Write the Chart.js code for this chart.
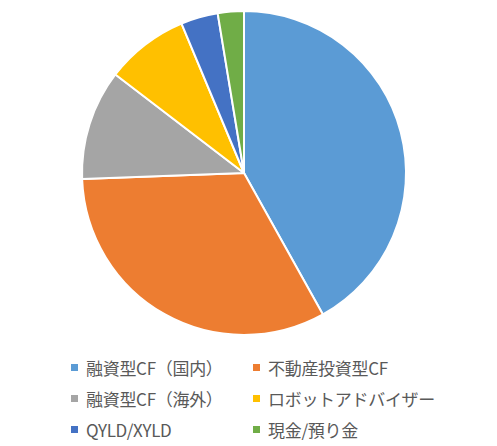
<!DOCTYPE html>
<html>
<head>
<meta charset="utf-8">
<script src="https://cdn.jsdelivr.net/npm/chart.js@4"></script>
<style>
  body { margin: 0; background: #fff; }
  #wrap { position: relative; width: 497px; height: 446px; }
  #chartBox { position: absolute; left: 0; top: 0; width: 497px; height: 346px; }
  #legend { position: absolute; left: 71px; top: 353px; width: 420px;
    display: grid; grid-template-columns: 182px 230px; row-gap: 3px;
    font-family: "Noto Sans CJK JP", "Noto Sans", sans-serif; font-size: 17px; color: #595959; }
  .item { display: flex; align-items: center; height: 28px; white-space: nowrap; letter-spacing: -0.3px; }
  .box { width: 7px; height: 7px; margin-right: 8px; flex: none; }
</style>
</head>
<body>
<div id="wrap">
  <div id="chartBox"><canvas id="pieChart"></canvas></div>
  <div id="legend"></div>
</div>
<script>
// カテゴリと割合(%)
const labels = ['融資型CF（国内）', '不動産投資型CF', '融資型CF（海外）', 'ロボットアドバイザー', 'QYLD/XYLD', '現金/預り金'];
const values = [41.9, 32.5, 11.0, 8.3, 3.7, 2.6];
const colors = ['#5B9BD5', '#ED7D31', '#A5A5A5', '#FFC000', '#4472C4', '#70AD47'];

const ctx = document.getElementById('pieChart').getContext('2d');
const chart = new Chart(ctx, {
    type: 'pie',
    data: {
        labels: labels,
        datasets: [{
            data: values,
            backgroundColor: colors,
            borderColor: '#ffffff',
            borderWidth: 2
        }]
    },
    options: {
        responsive: true,
        maintainAspectRatio: false,
        animation: false,
        layout: { padding: { top: 10, bottom: 10, left: 0, right: 9 } },
        plugins: {
            legend: { display: false },
            tooltip: { enabled: false }
        }
    }
});

// 凡例
const legend = document.getElementById('legend');
labels.forEach(function(lbl, i) {
    const item = document.createElement('div');
    item.className = 'item';
    const box = document.createElement('span');
    box.className = 'box';
    box.style.background = colors[i];
    const txt = document.createElement('span');
    txt.textContent = lbl;
    item.appendChild(box);
    item.appendChild(txt);
    legend.appendChild(item);
});
</script>
</body>
</html>
